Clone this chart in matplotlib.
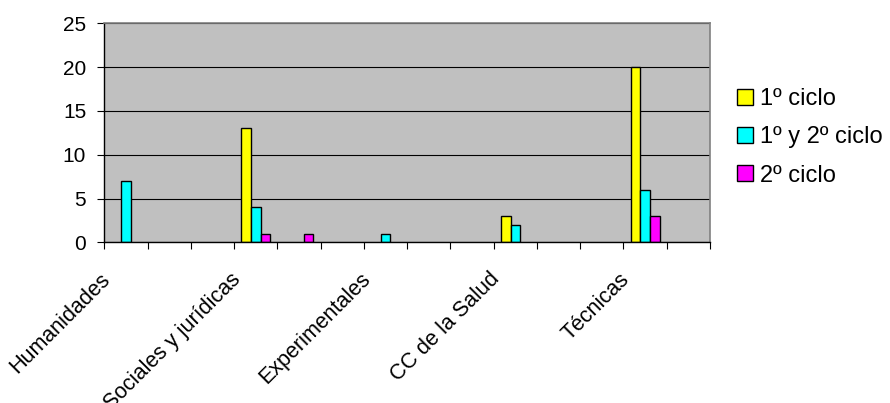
import numpy as np
import matplotlib
matplotlib.use("Agg")
import matplotlib.pyplot as plt
from matplotlib.transforms import ScaledTranslation

plt.rcParams['font.family'] = ['Liberation Sans', 'DejaVu Sans']

# 14 categories on the axis, only every third one is labelled
categories = ['Humanidades', '', '', 'Sociales y jurídicas', '', '',
              'Experimentales', '', '', 'CC de la Salud', '', '',
              'Técnicas', '']
series_names = ['1º ciclo', '1º y 2º ciclo', '2º ciclo']
ciclo1 = [0, 0, 0, 13, 0, 0, 0, 0, 0, 3, 0, 0, 20, 0]
ciclo12 = [7, 0, 0, 4, 0, 0, 1, 0, 0, 2, 0, 0, 6, 0]
ciclo2 = [0, 0, 0, 1, 1, 0, 0, 0, 0, 0, 0, 0, 3, 0]
colors = ['#FFFF00', '#00FFFF', '#FF00FF']
y_ticks = [0, 5, 10, 15, 20, 25]

fig = plt.figure(figsize=(8.9, 4.03), dpi=100)
ax = fig.add_axes([104.3 / 890, 1 - 242.3 / 403, (710 - 104.3) / 890, (242.3 - 23.3) / 403])
ax.set_facecolor('#C0C0C0')

x = np.arange(len(categories))
w = 0.222
for i, (vals, name, c) in enumerate(zip([ciclo1, ciclo12, ciclo2], series_names, colors)):
    # empty bars are not drawn at all (no outline on the baseline)
    h = [v if v else np.nan for v in vals]
    ax.bar(x + (i - 1) * w, h, width=w, color=c, edgecolor='black',
           linewidth=1.0, label=name, zorder=3)

ax.set_xlim(-0.5, len(categories) - 0.5)
ax.set_ylim(0, 25)
ax.set_yticks(y_ticks)
ax.yaxis.grid(True, color='black', linewidth=0.8, zorder=1)
ax.set_axisbelow(True)

for s in ['top', 'right']:
    ax.spines[s].set_color('#808080')
    ax.spines[s].set_linewidth(1.2)
for s in ['left', 'bottom']:
    ax.spines[s].set_color('black')
    ax.spines[s].set_linewidth(1.0)
ax.spines['bottom'].set_zorder(4)

ax.tick_params(axis='y', direction='out', length=5, width=0.8, pad=8, labelsize=15)

# boundary tick marks
ax.set_xticks(np.arange(len(categories) + 1) - 0.5, minor=True)
ax.tick_params(axis='x', which='minor', direction='out', length=5, width=0.8)

lab_idx = [i for i, c in enumerate(categories) if c]
ax.set_xticks(lab_idx)
ax.set_xticklabels([categories[i] for i in lab_idx], rotation=45, ha='right',
                   va='top', rotation_mode='anchor', fontsize=15.5)
ax.tick_params(axis='x', which='major', length=0, pad=19)
for lab in ax.get_xticklabels():
    lab.set_transform(lab.get_transform() + ScaledTranslation(-0.26, 0, fig.dpi_scale_trans))

ax.legend(loc='upper left', bbox_to_anchor=(736.5 / 890, 1 - 88 / 403),
          bbox_transform=fig.transFigure, frameon=False, fontsize=17,
          handlelength=0.68, handleheight=0.68, handletextpad=0.3,
          labelspacing=0.69, borderpad=0, borderaxespad=0)

fig.savefig('out.png', dpi=100)
